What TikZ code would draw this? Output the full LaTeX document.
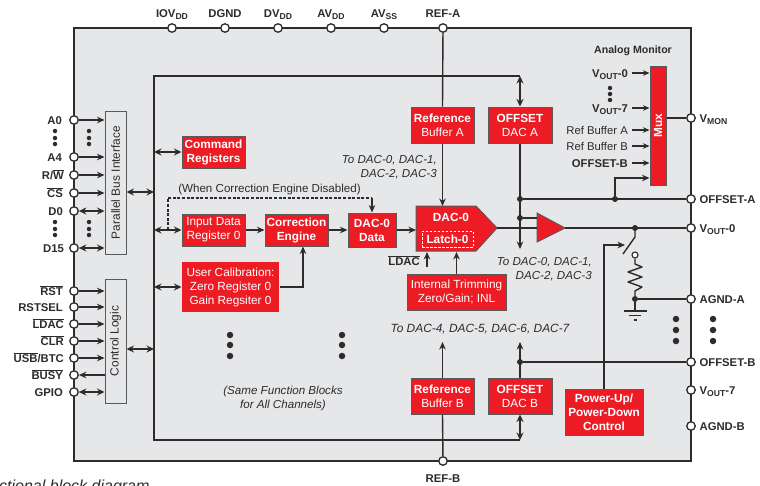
\documentclass[tikz,border=0pt]{standalone}
\usepackage{fontspec}
\setmainfont{Liberation Sans}
\usetikzlibrary{arrows.meta, positioning}
\definecolor{chipgray}{RGB}{230,231,232}
\definecolor{dacred}{RGB}{237,28,36}
\definecolor{inkdark}{RGB}{45,43,44}
\definecolor{boxedge}{RGB}{88,89,91}
\newcommand{\lowtxt}[1]{\raisebox{-0.35ex}{\fontsize{8.6}{9}\selectfont #1}}
\newcommand{\barred}[1]{$\overline{\mbox{#1}}$}

\begin{document}
\begin{tikzpicture}[
    x=1pt, y=-1pt,
    every node/.style={font=\fontsize{11.3}{13.6}\selectfont, text=inkdark},
    line/.style={draw=inkdark, line width=1.4pt},
    arrow/.style={line, -{Stealth[length=7.5pt, width=6.5pt]}},
    thinarrow/.style={draw=inkdark, line width=1.1pt, -{Stealth[length=6.5pt, width=5.5pt]}},
    twoway/.style={line, {Stealth[length=7.5pt, width=7pt]}-{Stealth[length=7.5pt, width=7pt]}},
    frame/.style={rectangle, draw=inkdark, line width=1.6pt, fill=chipgray, inner sep=0pt},
    logicbox/.style={rectangle, draw=boxedge, line width=1pt, fill=chipgray, inner sep=0pt, minimum width=21pt, font=\fontsize{11.9}{14}\selectfont},
    redbox/.style={rectangle, draw=boxedge, line width=1pt, fill=dacred, inner sep=0pt, align=center, text=white, minimum width=63pt, minimum height=32pt, font=\fontsize{11.8}{14}\selectfont},
    pin/.style={circle, draw=inkdark, line width=1.3pt, fill=white, inner sep=0pt, minimum size=8.5pt},
    dot/.style={circle, fill=inkdark, inner sep=0pt, minimum size=6pt},
    smalldot/.style={circle, fill=inkdark, inner sep=0pt, minimum size=4.5pt},
    bigdot/.style={circle, fill=inkdark, inner sep=0pt, minimum size=6.5pt},
    pinlabel/.style={font=\fontsize{11.3}{13.6}\selectfont\bfseries, inner sep=0pt, text height=8pt, text depth=0pt},
    note/.style={font=\fontsize{11.6}{14}\selectfont\itshape, inner sep=0pt},
]
\useasboundingbox (0,0) rectangle (760,485);

% === Chip outline ===
\node[frame, minimum width=617pt, minimum height=433pt] (chip) at (382.5,244.5) {};

% === Supply and reference pins ===
\node[pin] (pinIOV) at (172,28) {};
\node[pin] (pinDGND) at (225,28) {};
\node[pin] (pinDV) at (278,28) {};
\node[pin] (pinAV) at (331,28) {};
\node[pin] (pinAVSS) at (384,28) {};
\node[pin] (pinREFA) at (443,28) {};
\node[pin] (pinREFB) at (443,461) {};
\node[pinlabel, above=5pt of pinIOV] (lblIOV) {IOV\lowtxt{DD}};
\node[pinlabel, above=5pt of pinDGND] (lblDGND) {DGND};
\node[pinlabel, above=5pt of pinDV] (lblDV) {DV\lowtxt{DD}};
\node[pinlabel, above=5pt of pinAV] (lblAV) {AV\lowtxt{DD}};
\node[pinlabel, above=5pt of pinAVSS] (lblAVSS) {AV\lowtxt{SS}};
\node[pinlabel, above=5pt of pinREFA] (lblREFA) {REF-A};
\node[pinlabel, below=8.5pt of pinREFB] (lblREFB) {REF-B};

% === Left pins ===
\node[pin] (pinA0) at (74,120) {};
\node[pin] (pinA4) at (74,157) {};
\node[pin] (pinRW) at (74,175) {};
\node[pin] (pinCS) at (74,193) {};
\node[pin] (pinD0) at (74,211) {};
\node[pin] (pinD15) at (74,248) {};
\node[pin] (pinRST) at (74,291) {};
\node[pin] (pinRSTSEL) at (74,307) {};
\node[pin] (pinLDAC) at (74,324) {};
\node[pin] (pinCLR) at (74,341) {};
\node[pin] (pinUSB) at (74,358) {};
\node[pin] (pinBUSY) at (74,375) {};
\node[pin] (pinGPIO) at (74,392) {};
\node[pinlabel, left=7pt of pinA0] (lblA0) {A0};
\node[pinlabel, left=7pt of pinA4] (lblA4) {A4};
\node[pinlabel, left=5pt of pinRW] (lblRW) {R/\barred{W}};
\node[pinlabel, left=6pt of pinCS] (lblCS) {\barred{CS}};
\node[pinlabel, left=6pt of pinD0] (lblD0) {D0};
\node[pinlabel, left=5pt of pinD15] (lblD15) {D15};
\node[pinlabel, left=6pt of pinRST] (lblRST) {\barred{RST}};
\node[pinlabel, left=6pt of pinRSTSEL] (lblRSTSEL) {RSTSEL};
\node[pinlabel, left=5pt of pinLDAC] (lblLDAC) {\barred{LDAC}};
\node[pinlabel, left=5pt of pinCLR] (lblCLR) {\barred{CLR}};
\node[pinlabel, left=5pt of pinUSB] (lblUSB) {\barred{USB}/BTC};
\node[pinlabel, left=6pt of pinBUSY] (lblBUSY) {\barred{BUSY}};
\node[pinlabel, left=6pt of pinGPIO] (lblGPIO) {GPIO};

% === Right pins ===
\node[pin] (pinVMON) at (691,118) {};
\node[pin] (pinOFFA) at (691,199) {};
\node[pin] (pinVOUT) at (691,228) {};
\node[pin] (pinAGNDA) at (691,299) {};
\node[pin] (pinOFFB) at (691,362) {};
\node[pin] (pinVOUTS) at (691,390) {};
\node[pin] (pinAGNDB) at (691,426) {};
\node[pinlabel, right=3.5pt of pinVMON] (lblVMON) {V\lowtxt{MON}};
\node[pinlabel, right=3.5pt of pinOFFA] (lblOFFA) {OFFSET-A};
\node[pinlabel, right=3.5pt of pinVOUT] (lblVOUT) {V\lowtxt{OUT}-0};
\node[pinlabel, right=3.5pt of pinAGNDA] (lblAGNDA) {AGND-A};
\node[pinlabel, right=3.5pt of pinOFFB] (lblOFFB) {OFFSET-B};
\node[pinlabel, right=3.5pt of pinVOUTS] (lblVOUTS) {V\lowtxt{OUT}-7};
\node[pinlabel, right=3.5pt of pinAGNDB] (lblAGNDB) {AGND-B};

% === Interface blocks ===
\node[logicbox, minimum height=143pt] (bus) at (115.5,182.5) {\rotatebox{90}{Parallel Bus Interface}};
\node[logicbox, minimum height=124pt] (ctrl) at (115.5,341) {\rotatebox{90}{Control Logic}};

\draw[arrow] (pinA0) -- (bus.west |- pinA0);
\draw[arrow] (pinA4) -- (bus.west |- pinA4);
\draw[arrow] (pinRW) -- (bus.west |- pinRW);
\draw[arrow] (pinCS) -- (bus.west |- pinCS);
\draw[twoway] (pinD0) -- (bus.west |- pinD0);
\draw[twoway] (pinD15) -- (bus.west |- pinD15);
\draw[arrow] (pinRST) -- (ctrl.west |- pinRST);
\draw[arrow] (pinRSTSEL) -- (ctrl.west |- pinRSTSEL);
\draw[arrow] (pinLDAC) -- (ctrl.west |- pinLDAC);
\draw[arrow] (pinCLR) -- (ctrl.west |- pinCLR);
\draw[arrow] (pinUSB) -- (ctrl.west |- pinUSB);
\draw[arrow] (ctrl.west |- pinBUSY) -- (pinBUSY);
\draw[twoway] (pinGPIO) -- (ctrl.west |- pinGPIO);

% === Internal bus ===
\coordinate (busTop) at (154,76);
\coordinate (busBot) at (154,440);
\coordinate (busBusIn) at (154,192);
\coordinate (busCtrlIn) at (154,349);

% === Red blocks ===
\node[redbox] (cmd) at (213.5,152) {\bfseries Command\\\bfseries Registers};
\node[redbox] (input) at (213.5,230) {Input Data\\Register 0};
\node[redbox] (corr) at (296.5,230) {\bfseries Correction\\\bfseries Engine};
\node[redbox, minimum width=48pt, minimum height=34pt] (data) at (372,230) {\bfseries DAC-0\\\bfseries Data};
\node[redbox, draw=none, minimum width=97pt, minimum height=50pt] (calib) at (230.5,287) {User Calibration:\\Zero Register 0\\Gain Regsiter 0};
\node[redbox, minimum width=99pt, minimum height=36pt] (trim) at (456.5,292) {Internal Trimming\\Zero/Gain; INL};
\node[redbox, minimum height=36pt] (refA) at (442.5,125) {\bfseries Reference\\Buffer A};
\node[redbox, minimum width=64pt, minimum height=36pt] (offA) at (520,125) {\bfseries OFFSET\\DAC A};
\node[redbox, minimum height=36pt] (refB) at (442.5,396) {\bfseries Reference\\Buffer B};
\node[redbox, minimum width=64pt, minimum height=36pt] (offB) at (520,396) {\bfseries OFFSET\\DAC B};
\node[redbox, minimum width=78pt, minimum height=46pt] (power) at (604,412) {\bfseries Power-Up/\\\bfseries Power-Down\\\bfseries Control};
\node[redbox, minimum width=16pt, minimum height=119pt] (mux) at (658,125.5) {\rotatebox{90}{\bfseries Mux}};

% DAC-0 and output amplifier
\coordinate (dacTip) at (497,228);
\coordinate (dacIn) at (416,230);
\coordinate (ampBase) at (537,228);
\coordinate (ampTip) at (565,228);
\draw[draw=boxedge, line width=1pt, fill=dacred] (416,206) -- (476,206) -- (dacTip) -- (476,251) -- (416,251) -- cycle;
\node[font=\fontsize{11.8}{14}\selectfont\bfseries, text=white, inner sep=0pt] (dacName) at (451,217) {DAC-0};
\node[rectangle, draw=white, dash pattern=on 2.5pt off 1.5pt, line width=0.8pt, inner sep=0pt, minimum width=51pt, minimum height=16pt, font=\fontsize{11.8}{14}\selectfont\bfseries, text=white] (latch) at (447.5,239) {Latch-0};
\draw[draw=boxedge, line width=1pt, fill=dacred] (537,213) -- (ampTip) -- (537,242) -- cycle;

% === Bus connections ===
\draw[line, line width=1.6pt] (offA.north |- busTop) -- (busTop) -- (busBot) -- (offB.south |- busBot);
\draw[twoway] (bus.east |- busBusIn) -- (busBusIn);
\draw[twoway] (ctrl.east |- busCtrlIn) -- (busCtrlIn);
\draw[twoway] (busTop |- cmd) -- (cmd.west);
\draw[twoway] (busTop |- input) -- (input.west);
\draw[twoway] (busTop |- calib) -- (calib.west);
\draw[twoway] (offA.north |- busTop) -- (offA.north);
\draw[twoway] (offB.south |- busBot) -- (offB.south);

% === Signal path ===
\coordinate (bypass) at (168,230);
\coordinate (dacLdac) at (427,252);
\coordinate (ldacFoot) at (427,267);
\draw[line, dash pattern=on 3pt off 1.6pt] (bypass) -- (168,198) -- (372,198);
\draw[arrow] (372,198) -- (data.north);
\draw[arrow] (input) -- (corr);
\draw[arrow] (corr) -- (data);
\draw[arrow] (data.east) -- (dacIn);
\draw[arrow] (calib.east) -| ([xshift=6.5pt]corr.south);
\draw[line] (pinREFA) -- (refA.north);
\draw[arrow] (refA.south) -- (refA.south |- 0,206);
\draw[arrow] (trim.north) -- (456.5,252);
\draw[arrow] (ldacFoot) -- (dacLdac);
\node[pinlabel, anchor=east] (lblDacLdac) at (420,261) {\barred{LDAC}};
\draw[line] (pinREFB) -- (refB.south);
\draw[arrow] (refB.north) -- (refB.north |- 0,342);

% OFFSET lines
\node[dot] (dotOffA) at (520,199) {};
\node[dot] (dotAmp) at (520,218) {};
\node[dot] (dotOffMux) at (615,199) {};
\node[dot] (dotOffB) at (520,362) {};
\coordinate (offADown) at (520,249);
\draw[arrow] (offA.south) -- (offADown);
\draw[line] (dotOffA) -- (pinOFFA);
\draw[line] (dotAmp) -- (dotAmp -| ampBase);
\draw[line] (dacTip) -- (ampBase);
\draw[arrow] (offB.north) -- (offB.north |- 0,342);
\draw[line] (dotOffB) -- (pinOFFB);
\draw[line] (ampTip) -- (pinVOUT);

% === Switch and load ===
\node[dot] (dotVout) at (635,228) {};
\node[dot] (dotAgnd) at (635,299) {};
\node[pin, minimum size=6pt, line width=1.1pt] (swPad) at (635,255) {};
\coordinate (swArm) at (625,245);
\coordinate (gnd) at (635,311);
\draw[line] (dotVout) -- (635,237) -- (623,254);
\draw[arrow] (power.north) |- (swArm);
\draw[line, line join=round] (swPad) -- (635,264) -- (642,267) -- (628,272) -- (642,277) -- (628,282) -- (642,287) -- (635,291) -- (dotAgnd);
\draw[line] (dotAgnd) -- (pinAGNDA);
\draw[line] (dotAgnd) -- (gnd);
\draw[line] (gnd) ++(-11.5,0) -- ++(23,0);
\draw[line] (gnd) ++(-6,4.5) -- ++(12,0);
\draw[line] (gnd) ++(-1.5,9) -- ++(3,0);

% === Analog monitor ===
\node[pinlabel] (lblMonitor) at (633,49) {\fontsize{10.6}{13}\selectfont Analog Monitor};
\coordinate (muxInA) at (632,73);
\coordinate (muxInB) at (632,108);
\coordinate (muxInC) at (632,130);
\coordinate (muxInD) at (632,146);
\coordinate (muxInE) at (632,163);
\node[pinlabel, anchor=east] (lblMuxA) at (628,73) {V\lowtxt{OUT}-0};
\node[pinlabel, anchor=east] (lblMuxB) at (628,108) {V\lowtxt{OUT}-7};
\node[note, font=\fontsize{11.3}{13.6}\selectfont, anchor=east] (lblMuxC) at (628,130) {Ref Buffer A};
\node[note, font=\fontsize{11.3}{13.6}\selectfont, anchor=east] (lblMuxD) at (628,146) {Ref Buffer B};
\node[pinlabel, anchor=east] (lblMuxE) at (628,163) {OFFSET-B};
\draw[thinarrow] (muxInA) -- (mux.west |- muxInA);
\draw[thinarrow] (muxInB) -- (mux.west |- muxInB);
\draw[thinarrow] (muxInC) -- (mux.west |- muxInC);
\draw[thinarrow] (muxInD) -- (mux.west |- muxInD);
\draw[thinarrow] (muxInE) -- (mux.west |- muxInE);
\draw[arrow] (dotOffMux) |- (mux.west |- 0,178);
\draw[line] (mux.east |- pinVMON) -- (pinVMON);

% === Notes ===
\node[note, align=right, anchor=east] (noteDacA) at (437,167) {To DAC-0, DAC-1,\\DAC-2, DAC-3};
\node[note, align=right, anchor=east] (noteDacB) at (592,269) {To DAC-0, DAC-1,\\DAC-2, DAC-3};
\node[note, font=\fontsize{11.9}{14}\selectfont\itshape] (noteDacC) at (480,329) {To DAC-4, DAC-5, DAC-6, DAC-7};
\node[note, align=center] (noteSame) at (283,398) {(Same Function Blocks\\for All Channels)};
\node[note, font=\fontsize{11.6}{14}\selectfont] (noteBypass) at (269.5,189) {(When Correction Engine Disabled)};

% === Continuation dots ===
\node[smalldot] (dotsA1) at (55,131) {};
\node[smalldot] (dotsA2) at (55,138) {};
\node[smalldot] (dotsA3) at (55,144) {};
\node[smalldot] (dotsB1) at (89,131) {};
\node[smalldot] (dotsB2) at (89,138) {};
\node[smalldot] (dotsB3) at (89,144) {};
\node[smalldot] (dotsC1) at (55,222) {};
\node[smalldot] (dotsC2) at (55,229) {};
\node[smalldot] (dotsC3) at (55,235) {};
\node[smalldot] (dotsD1) at (89,222) {};
\node[smalldot] (dotsD2) at (89,229) {};
\node[smalldot] (dotsD3) at (89,235) {};
\node[smalldot] (dotsE1) at (610,88) {};
\node[smalldot] (dotsE2) at (610,94) {};
\node[smalldot] (dotsE3) at (610,100) {};
\node[bigdot] (dotsF1) at (230,335) {};
\node[bigdot] (dotsF2) at (230,345) {};
\node[bigdot] (dotsF3) at (230,356) {};
\node[bigdot] (dotsG1) at (342,335) {};
\node[bigdot] (dotsG2) at (342,345) {};
\node[bigdot] (dotsG3) at (342,356) {};
\node[bigdot] (dotsH1) at (676,319) {};
\node[bigdot] (dotsH2) at (676,330) {};
\node[bigdot] (dotsH3) at (676,341) {};
\node[bigdot] (dotsI1) at (713,319) {};
\node[bigdot] (dotsI2) at (713,330) {};
\node[bigdot] (dotsI3) at (713,341) {};

% === Cut-off caption ===
\node[font=\fontsize{16}{18}\selectfont\itshape, inner sep=0pt, anchor=base west] (caption) at (-1,491) {ctional block diagram};
\end{tikzpicture}
\end{document}
